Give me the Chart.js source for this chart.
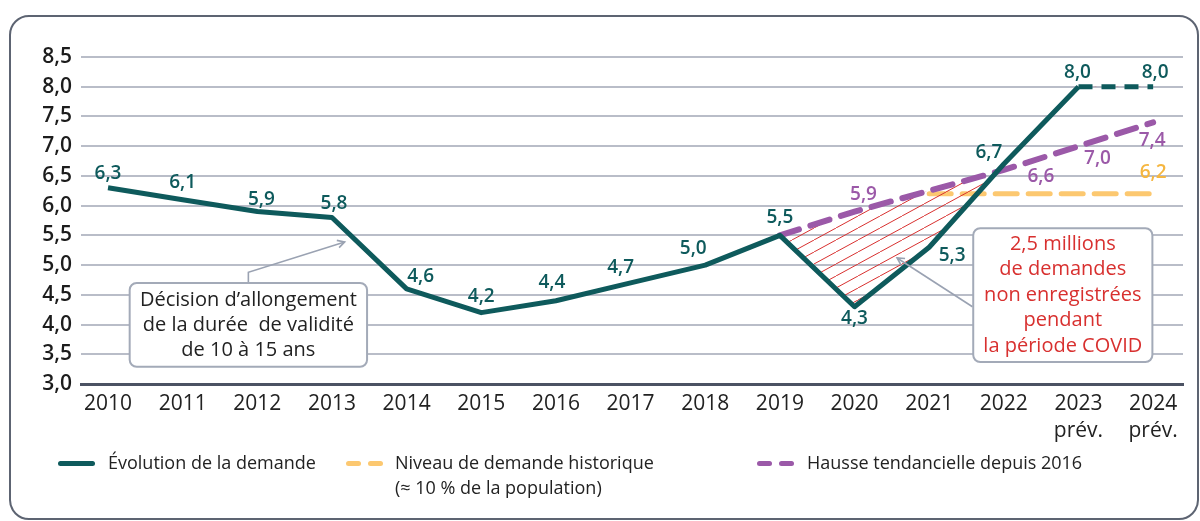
<!DOCTYPE html>
<html lang="fr">
<head>
<meta charset="utf-8">
<script src="https://cdn.jsdelivr.net/npm/chart.js@4.4.1/dist/chart.umd.min.js"></script>
<style>
  html, body { margin: 0; padding: 0; background: #fff; }
  #wrap { position: relative; width: 1200px; height: 521px; overflow: hidden; font-family: "Open Sans", sans-serif; }
  #frame { position: absolute; left: 9px; top: 15px; width: 1190px; height: 505px; box-sizing: border-box;
           border: 2.5px solid #5d6472; border-radius: 20px; }
  canvas { position: absolute; left: 0; top: 0; }
  .leg { position: absolute; top: 450px; font-size: 18px; color: #222; line-height: 25px; }
  .sw { position: absolute; top: 461px; height: 5px; }
</style>
</head>
<body>
<div id="wrap">
  <div id="frame"></div>
  <canvas id="demandeChart" width="1200" height="521"></canvas>
  <div class="sw" style="left:58px;width:37px;background:#0e5a5c;border-radius:3px"></div>
  <div class="leg" style="left:108px">Évolution de la demande</div>
  <div class="sw" style="left:346px;width:15px;background:#fcc870;border-radius:3px"></div>
  <div class="sw" style="left:368px;width:15px;background:#fcc870;border-radius:3px"></div>
  <div class="leg" style="left:395px">Niveau de demande historique<br>(≈ 10 % de la population)</div>
  <div class="sw" style="left:757px;width:15px;background:#9b59a8;border-radius:3px"></div>
  <div class="sw" style="left:779px;width:15px;background:#9b59a8;border-radius:3px"></div>
  <div class="leg" style="left:807px">Hausse tendancielle depuis 2016</div>
</div>
<script>
// données (millions de demandes)
const years = ["2010", "2011", "2012", "2013", "2014", "2015", "2016", "2017", "2018", "2019", "2020", "2021", "2022", "2023", "2024"];
const xLabels = ["2010", "2011", "2012", "2013", "2014", "2015", "2016", "2017", "2018", "2019", "2020", "2021", "2022", ["2023", "prév."], ["2024", "prév."]];
const demande = [6.3, 6.1, 5.9, 5.8, 4.6, 4.2, 4.4, 4.7, 5.0, 5.5, 4.3, 5.3, 6.7, 8.0, 8.0];
const historique = [null, null, null, null, null, null, null, null, null, null, null, 6.2, 6.2, 6.2, 6.2];
const tendance = [null, null, null, null, null, null, null, null, null, 5.5, 5.9, 6.25, 6.6, 7.0, 7.4];
const yTicks = [3.0, 3.5, 4.0, 4.5, 5.0, 5.5, 6.0, 6.5, 7.0, 7.5, 8.0, 8.5];

const teal = "#0e5a5c";
const orange = "#fcc870";
const purple = "#9b59a8";
const red = "#d8302f";

function fmt(v) {
  return v.toFixed(1).replace(".", ",");
}

// position d'index sur l'axe linéaire
const idx = years.map((_, i) => i);

// hachures rouges pour la zone COVID
function hatch() {
  const c = document.createElement("canvas");
  c.width = 22;
  c.height = 12;
  const g = c.getContext("2d");
  g.strokeStyle = red;
  g.lineWidth = 1;
  g.beginPath();
  g.moveTo(-22, 24);
  g.lineTo(44, -12);
  g.stroke();
  return g.createPattern(c, "repeat");
}

// étiquettes de valeurs
const valueLabels = {
  id: "valueLabels",
  afterDatasetsDraw(chart, args, opts) {
    const ctx = chart.ctx;
    ctx.save();
    ctx.font = "600 19px 'Open Sans', sans-serif";
    ctx.textAlign = "center";
    ctx.textBaseline = "middle";
    chart.data.datasets.forEach((ds, di) => {
      const offs = opts.offsets[di];
      if (!offs) return;
      const meta = chart.getDatasetMeta(di);
      ds.data.forEach((v, i) => {
        const o = offs[i];
        if (v == null || !o) return;
        const pt = meta.data[i];
        ctx.fillStyle = ds.labelColor || ds.borderColor;
        ctx.fillText(fmt(v), pt.x + o[0], pt.y + o[1]);
      });
    });
    ctx.restore();
  },
};

// encadrés + flèches
const notes = {
  id: "notes",
  afterDatasetsDraw(chart, args, opts) {
    const ctx = chart.ctx;
    const xs = chart.scales.x;
    const ys = chart.scales.y;
    ctx.save();
    opts.boxes.forEach((b) => {
      // flèche
      ctx.strokeStyle = "#9aa2b2";
      ctx.lineWidth = 1.6;
      ctx.beginPath();
      b.arrow.forEach((p, i) => {
        const px = xs.getPixelForValue(p[0]);
        const py = ys.getPixelForValue(p[1]);
        if (i === 0) ctx.moveTo(px, py);
        else ctx.lineTo(px, py);
      });
      ctx.stroke();
      const n = b.arrow.length;
      const tx = xs.getPixelForValue(b.arrow[n - 1][0]);
      const ty = ys.getPixelForValue(b.arrow[n - 1][1]);
      const fx = xs.getPixelForValue(b.arrow[n - 2][0]);
      const fy = ys.getPixelForValue(b.arrow[n - 2][1]);
      const a = Math.atan2(ty - fy, tx - fx);
      ctx.beginPath();
      ctx.moveTo(tx - 8 * Math.cos(a - 0.5), ty - 8 * Math.sin(a - 0.5));
      ctx.lineTo(tx, ty);
      ctx.lineTo(tx - 8 * Math.cos(a + 0.5), ty - 8 * Math.sin(a + 0.5));
      ctx.stroke();

      // boîte
      const x0 = xs.getPixelForValue(b.xMin);
      const x1 = xs.getPixelForValue(b.xMax);
      const y0 = ys.getPixelForValue(b.yMax);
      const y1 = ys.getPixelForValue(b.yMin);
      ctx.fillStyle = "#fff";
      ctx.strokeStyle = "#a3aab8";
      ctx.lineWidth = 2;
      ctx.beginPath();
      ctx.roundRect(x0, y0, x1 - x0, y1 - y0, 7);
      ctx.fill();
      ctx.stroke();

      ctx.fillStyle = b.color;
      ctx.font = "20px 'Open Sans', sans-serif";
      ctx.textAlign = "center";
      ctx.textBaseline = "middle";
      const cx = (x0 + x1) / 2;
      const top = (y0 + y1) / 2 - ((b.lines.length - 1) * b.lineH) / 2;
      b.lines.forEach((t, i) => ctx.fillText(t, cx, top + i * b.lineH));
    });
    ctx.restore();
  },
};

const ctx = document.getElementById("demandeChart").getContext("2d");
const config = {
  type: "line",
  data: {
    labels: idx,
    datasets: [
      {
        label: "Évolution de la demande",
        data: demande,
        borderColor: teal,
        borderWidth: 5,
        borderJoinStyle: "round",
        pointRadius: 0,
        tension: 0,
        fill: false,
        segment: {
          borderDash: (c) => (c.p0DataIndex >= 13 ? [14, 9] : undefined),
        },
        order: 1,
      },
      {
        label: "Niveau de demande historique",
        data: historique,
        borderColor: orange,
        labelColor: "#f5b640",
        borderWidth: 5,
        borderDash: [22, 11],
        borderCapStyle: "round",
        pointRadius: 0,
        tension: 0,
        fill: false,
        order: 3,
      },
      {
        label: "Hausse tendancielle depuis 2016",
        data: tendance,
        borderColor: purple,
        borderWidth: 6,
        borderDash: [20, 12],
        borderCapStyle: "round",
        pointRadius: 0,
        tension: 0,
        fill: { target: 0, above: hatch(), below: "rgba(0,0,0,0)" },
        order: 2,
      },
    ],
  },
  options: {
    responsive: false,
    animation: false,
    layout: { padding: { left: 0, top: 57, right: 17, bottom: 0 } },
    plugins: {
      legend: { display: false },
      tooltip: { enabled: false },
      valueLabels: {
        offsets: [
          [[0, -14], [0, -17], [4, -12], [2, -14], [14, -12], [0, -16], [-4, -18], [-10, -15], [-12, -16], [0, -18], [0, 12], [23, 8], [-15, -11], [-1, -14], [2, -14]],
          [null, null, null, null, null, null, null, null, null, null, null, null, null, null, [0, -21]],
          [null, null, null, null, null, null, null, null, null, null, [9, -17], null, [37, 7], [19, 12], [-1, 18]],
        ],
      },
      notes: {
        boxes: [
          {
            xMin: 0.29, xMax: 3.47, yMin: 3.29, yMax: 4.70,
            lines: ["Décision d’allongement", "de la durée  de validité", "de 10 à 15 ans"],
            lineH: 25, color: "#222",
            arrow: [[1.88, 4.70], [1.88, 4.88], [3.17, 5.39]],
          },
          {
            xMin: 11.59, xMax: 13.99, yMin: 3.37, yMax: 5.62,
            lines: ["2,5 millions", "de demandes", "non enregistrées", "pendant", "la période COVID"],
            lineH: 25.5, color: red,
            arrow: [[11.58, 4.30], [10.57, 5.12]],
          },
        ],
      },
    },
    scales: {
      x: {
        type: "linear",
        min: -0.362,
        max: 14.4,
        afterBuildTicks: (scale) => {
          scale.ticks = idx.map((i) => ({ value: i }));
        },
        afterFit: (scale) => {
          scale.height = 137;
        },
        grid: { display: false, drawTicks: false },
        border: { display: true, color: "#4b5263", width: 3 },
        ticks: {
          padding: 6,
          maxRotation: 0,
          autoSkip: false,
          color: "#222",
          font: { family: "'Open Sans', sans-serif", size: 21, lineHeight: 1.3 },
          callback: (v) => xLabels[v],
        },
      },
      y: {
        min: 3,
        max: 8.5,
        afterBuildTicks: (scale) => {
          scale.ticks = yTicks.map((v) => ({ value: v }));
        },
        afterFit: (scale) => {
          scale.width = 81;
        },
        grid: {
          drawTicks: false,
          color: (c) => (c.tick && c.tick.value === 3 ? "rgba(0,0,0,0)" : "#b9bdc8"),
          lineWidth: 2,
        },
        border: { display: false },
        ticks: {
          padding: 9,
          color: "#1c1c1c",
          font: { family: "'Open Sans', sans-serif", size: 21, weight: "600" },
          callback: (v) => fmt(v),
        },
      },
    },
  },
  plugins: [valueLabels, notes],
};

const demandeChart = new Chart(ctx, config);
</script>
</body>
</html>
